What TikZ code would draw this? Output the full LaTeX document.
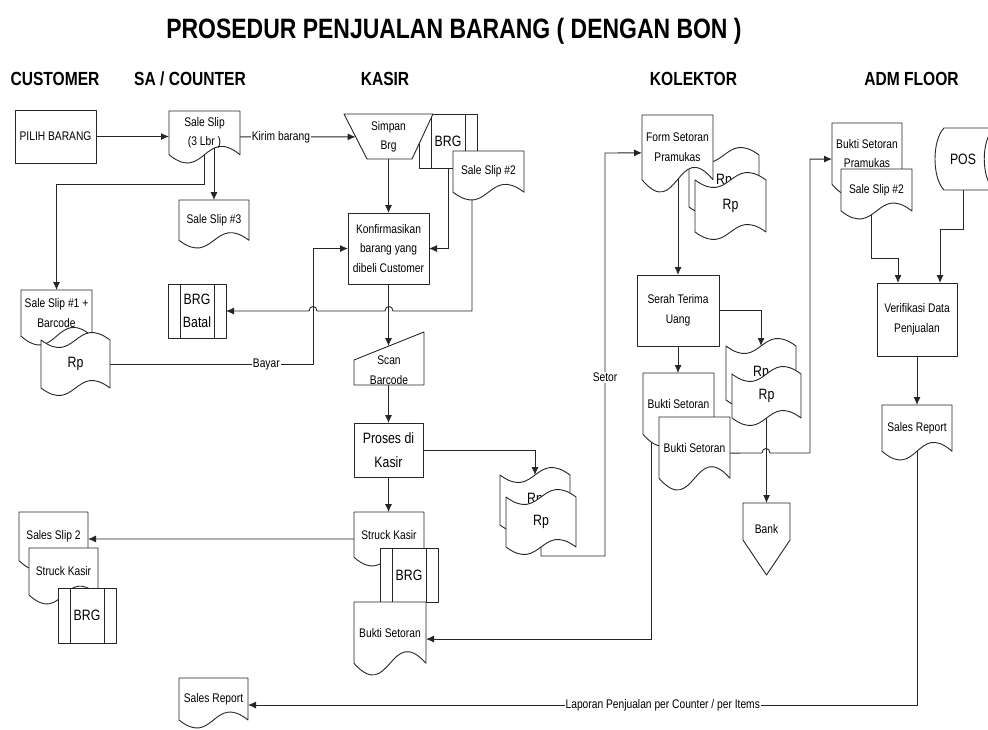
\documentclass[tikz,border=0pt]{standalone}
\usepackage{fontspec}
\setmainfont[FakeStretch=0.82]{Liberation Sans}
\usetikzlibrary{arrows.meta,calc}
\pgfdeclarelayer{bg}
\pgfsetlayers{bg,main}

\tikzset{
  shp/.style={draw=black!85, fill=white, line width=0.9pt, line join=round},
  shpl/.style={draw=black!85, line width=0.9pt},
  txt/.style={inner sep=0pt, outer sep=0pt, align=center, font=\fontsize{12.5}{19.5}\selectfont},
  big/.style={font=\fontsize{15}{23.5}\selectfont},
  proc/.style={shp, txt},
  con/.style={draw=black!85, line width=0.9pt},
  arr/.style={con, -{Latex[length=8pt,width=7pt]}},
  lab/.style={fill=white, inner sep=1pt, font=\fontsize{12.5}{14}\selectfont},
  ttl/.style={font=\bfseries\fontsize{28}{32}\selectfont, anchor=base},
  hdr/.style={font=\bfseries\fontsize{19}{22}\selectfont, anchor=base},
}

% document shape: #2 name, #3 x1, #4 y1 (top), #5 x2, #6 y2 (lowest point of wave), #7 text
\newcommand\DocShape[7][]{%
  \pgfmathsetmacro\dsA{0.16*(#6-(#4))}%
  \pgfmathsetmacro\dsE{3.46*\dsA}%
  \pgfmathsetmacro\dsB{#6-\dsA}%
  \pgfmathsetmacro\dsM{(#3+#5)/2}%
  \pgfmathsetmacro\dsW{#5-#3}%
  \pgfmathsetmacro\dsH{\dsB-#4}%
  \pgfmathsetmacro\dsC{(#4+\dsB)/2}%
  \path[shp] (#3,#4) -- (#5,#4) -- (#5,\dsB) .. controls (\dsM,{\dsB-\dsE}) and (\dsM,{\dsB+\dsE}) .. (#3,\dsB) -- cycle;
  \node[txt,minimum width=\dsW,minimum height=\dsH,#1] (#2) at (\dsM,\dsC) {#7};
}
% punched tape: #2 name, #3 x1, #4 top mid, #5 x2, #6 bottom mid, #7 text
\newcommand\TapeShape[7][]{%
  \pgfmathsetmacro\dsM{(#3+#5)/2}%
  \pgfmathsetmacro\dsW{#5-#3}%
  \pgfmathsetmacro\dsH{#6-#4}%
  \pgfmathsetmacro\dsC{(#4+#6)/2}%
  \def\dsE{26}%
  \path[shp] (#3,#4) .. controls (\dsM,{#4+\dsE}) and (\dsM,{#4-\dsE}) .. (#5,#4) -- (#5,#6) .. controls (\dsM,{#6-\dsE}) and (\dsM,{#6+\dsE}) .. (#3,#6) -- cycle;
  \node[txt,big,minimum width=\dsW,minimum height=\dsH,#1] (#2) at (\dsM,\dsC) {#7};
}
% predefined process: #2 name, #3 x1, #4 y1, #5 x2, #6 y2, #7 text
\newcommand\PredefShape[7][]{%
  \pgfmathsetmacro\dsM{(#3+#5)/2}%
  \pgfmathsetmacro\dsW{#5-#3}%
  \pgfmathsetmacro\dsH{#6-#4}%
  \pgfmathsetmacro\dsC{(#4+#6)/2}%
  \path[shp] (#3,#4) rectangle (#5,#6);
  \draw[shpl] ({#3+12},#4) -- ({#3+12},#6) ({#5-12},#4) -- ({#5-12},#6);
  \node[txt,big,minimum width=\dsW,minimum height=\dsH,#1] (#2) at (\dsM,\dsC) {#7};
}

\begin{document}
\begin{tikzpicture}[x=1pt,y=-1pt]
\useasboundingbox (0,0) rectangle (988,729);
\clip (0,0) rectangle (988,729);

% title and lane headers
\node[ttl] (title) at (454,38) {PROSEDUR PENJUALAN BARANG ( DENGAN BON )};
\node[hdr] (hcust) at (55,85) {CUSTOMER};
\node[hdr] (hsa) at (190,85) {SA / COUNTER};
\node[hdr] (hkasir) at (385,85) {KASIR};
\node[hdr] (hkol) at (693.5,85) {KOLEKTOR};
\node[hdr] (hadm) at (911.5,85) {ADM FLOOR};

% ---------- customer / SA counter ----------
\node[proc, minimum width=81, minimum height=53] (pilih) at (55.5,136.5) {PILIH BARANG};
\DocShape{slip3}{169}{111}{240}{163}{Sale Slip\\(3 Lbr )}
\DocShape{ss3}{179}{200}{249}{248}{Sale Slip \#3}
\DocShape{ss1}{21}{290}{92}{345}{Sale Slip \#1 +\\Barcode}
\TapeShape{rpc}{41}{340}{110}{388}{Rp}
\PredefShape{brgb}{168}{284}{226}{338}{BRG\\Batal}
\DocShape{sls2}{19}{512}{88}{570}{Sales Slip 2}
\DocShape{skc}{29}{548}{98}{604}{Struck Kasir}
\PredefShape{brgc}{58}{588}{116}{643}{BRG}
\DocShape{srb}{179}{678}{248}{728}{Sales Report}

% ---------- kasir ----------
\PredefShape{brgk}{419}{114}{477}{168}{BRG}
\path[shp] (344,114) -- (433,114) -- (412,159) -- (367,159) -- cycle;
\node[txt, minimum width=89, minimum height=45] (simpan) at (388.5,136.8) {Simpan\\Brg};
\DocShape{ss2k}{453}{151}{524}{200}{Sale Slip \#2}
\node[proc, minimum width=81, minimum height=71] (konf) at (388.5,248.5) {Konfirmasikan\\barang yang\\dibeli Customer};
\path[shp] (354,360) -- (424,332) -- (424,385) -- (354,385) -- cycle;
\node[txt, minimum width=70, minimum height=48] (scan) at (389,370) {Scan\\Barcode};
\node[proc, big, minimum width=69, minimum height=54] (proses) at (388.5,450) {Proses di\\Kasir};
\TapeShape{rpk1}{500}{475}{570}{525}{Rp}
\TapeShape{rpk2}{506}{497}{576}{547}{Rp}
\DocShape{skk}{354}{512}{424}{566}{Struck Kasir}
\PredefShape{brgs}{380}{548}{438}{602}{BRG}
\DocShape{bskasir}{354}{602}{426}{675}{Bukti Setoran}

% ---------- kolektor ----------
\TapeShape{rpt1}{689}{155}{759}{207}{Rp}
\TapeShape{rpt2}{695}{180}{766}{232}{Rp}
\DocShape{form}{642}{115}{713}{192}{Form Setoran\\Pramukas}
\node[proc, minimum width=82, minimum height=71] (serah) at (678,310.5) {Serah Terima\\Uang};
\TapeShape{rpm1}{726}{346}{796}{400}{Rp}
\TapeShape{rpm2}{732}{374}{801}{418}{Rp}
\DocShape{bsk1}{643}{373}{714}{446}{Bukti Setoran}
\DocShape{bsk2}{659}{417}{730}{490}{Bukti Setoran}
\path[shp] (743,503) -- (790,503) -- (790,540) -- (766.5,575) -- (743,540) -- cycle;
\node[txt, minimum width=47, minimum height=52] (bank) at (766.5,529) {Bank};

% ---------- adm floor ----------
\DocShape{bsp}{832}{123}{902}{196}{Bukti Setoran\\Pramukas}
\DocShape{ss2a}{841}{169}{912}{219}{Sale Slip \#2}
\path[shp] (994,128) -- (944,128) .. controls (932,140) and (932,178) .. (944,190) -- (994,190) .. controls (981,178) and (981,140) .. (994,128) -- cycle;
\node[txt, big, minimum width=38, minimum height=62] (pos) at (963,159) {POS};
\node[proc, minimum width=80, minimum height=73] (verif) at (917,319.5) {Verifikasi Data\\Penjualan};
\DocShape{sra}{882}{405}{952}{460}{Sales Report}

% ---------- connectors ----------
\begin{pgfonlayer}{bg}
\draw[arr] (pilih.east) -- (pilih.east -| slip3.west);
\draw[arr] ($(slip3.east)+(0,4)$) -- node[lab, pos=.354] {Kirim barang} ($(simpan.west)+(11.6,0.1)$);
\draw[arr] (ss3.north |- slip3.center) -- (ss3.north);
\draw[arr] (slip3.center) -- ++(0,52) -| (ss1.north);
\draw[arr] (simpan.center) -- (konf.north);
\draw[arr] (brgk.center) |- (konf.east);
\draw[arr] (rpc.east) -- node[lab, pos=.77] {Bayar} ($(rpc.east -| konf.west)+(-35,0)$) |- (konf.west);
\draw[arr] ($(ss2k.center)+(-16.5,0)$) |- (393,311)
   .. controls (393,305) and (385,305) .. (385,311) -- (317,311)
   .. controls (317,305) and (309,305) .. (309,311) -- (brgb.east);
\draw[arr] (konf.center) -- (konf.center |- scan.north);
\draw[arr] (proses.north |- scan.center) -- (proses.north);
\draw[arr] (proses.east) -| (rpk1.north);
\draw[arr] (proses.center) -- (proses.center |- skk.north);
\draw[arr] ($(skk.west)+(0,4.3)$) -- ($(sls2.east)+(0,2.6)$);
\draw[arr] (rpk2.center) -- (541,556) -- (605,556) -- node[lab, pos=.444] {Setor} (605,153) -- ($(form.west)+(0,5.5)$);
\draw[arr] (serah.north |- form.center) -- (serah.north);
\draw[arr] (serah.east) -| (rpm1.north);
\draw[arr] (serah.center) -- (serah.center |- bsk1.north);
\draw[arr] ($(bsk1.west)+(8,0)$) |- ($(bskasir.east)+(0,6.4)$);
\draw[arr] (bank.north |- rpm2.center) -- (bank.north);
\draw[arr] ($(bsk2.east)+(0,5.4)$) -- (762,453)
   .. controls (762,447) and (770,447) .. (770,453) -- (810,453) |- ($(bsp.west)+(0,5.4)$);
\draw[arr] ($(ss2a.center)+(-5.5,0)$) |- (898,258) -- ($(verif.north)+(-19,0)$);
\draw[arr] (pos.center) |- (940,229) -- ($(verif.north)+(23,0)$);
\draw[arr] (verif.south) -- (sra.north);
\draw[arr] (sra.center) |- node[lab, pos=.69] {Laporan Penjualan per Counter / per Items} ($(srb.east)+(0,6)$);
\end{pgfonlayer}
\end{tikzpicture}
\end{document}
